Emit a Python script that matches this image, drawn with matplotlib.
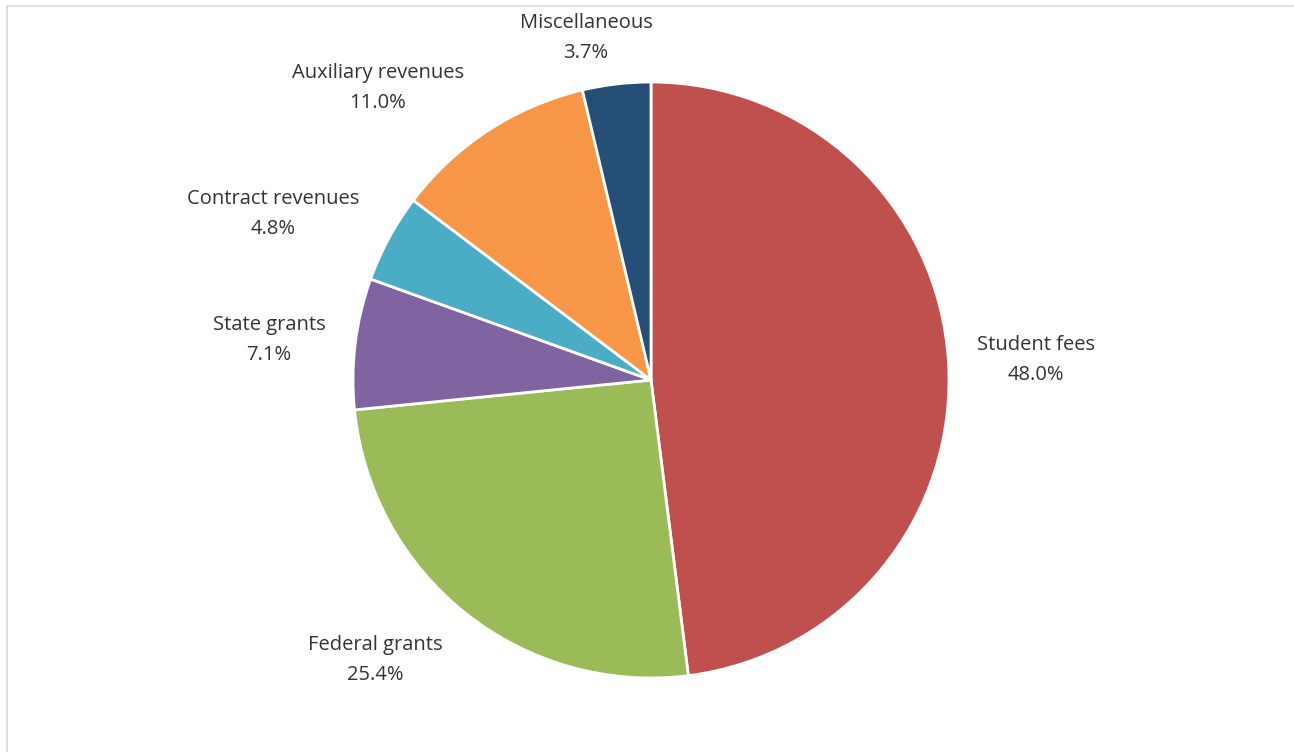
import matplotlib.pyplot as plt
from matplotlib.patches import Rectangle

categories = ["Student fees", "Federal grants", "State grants",
              "Contract revenues", "Auxiliary revenues", "Miscellaneous"]
shares = [48.0, 25.4, 7.1, 4.8, 11.0, 3.7]
colors = ["#C0504D", "#9BBB59", "#8064A2", "#4BACC6", "#F79646", "#264F78"]

# label anchor points, in units of the pie radius
label_xy = [(1.292, 0.067), (-0.926, -0.940), (-1.282, 0.134),
            (-1.268, 0.557), (-0.916, 0.980), (-0.218, 1.148)]

plt.rcParams['font.family'] = ['Open Sans', 'DejaVu Sans']

W, H = 1294, 752
fig = plt.figure(figsize=(W / 100, H / 100), dpi=100)

# thin grey chart-area frame
fig.patches.append(Rectangle((6.5 / W, -0.1), 1.2, 1 - 5.5 / H + 0.1,
                             transform=fig.transFigure, fill=False,
                             edgecolor="#D9D9D9", linewidth=1.2))

cx, cy, r = 651, H - 380, 298
ax = fig.add_axes([(cx - r) / W, (cy - r) / H, 2 * r / W, 2 * r / H])

wedges, _ = ax.pie(shares, colors=colors, startangle=90, counterclock=False,
                   wedgeprops=dict(edgecolor="white", linewidth=2))
ax.set_xlim(-1, 1)
ax.set_ylim(-1, 1)
ax.axis("off")

for name, val, (x, y) in zip(categories, shares, label_xy):
    ax.text(x, y, f"{name}\n{val:.1f}%", ha="center", va="center",
            fontsize=14.5, color="#333333", linespacing=1.65, clip_on=False)

fig.savefig("out.png", dpi=100)
